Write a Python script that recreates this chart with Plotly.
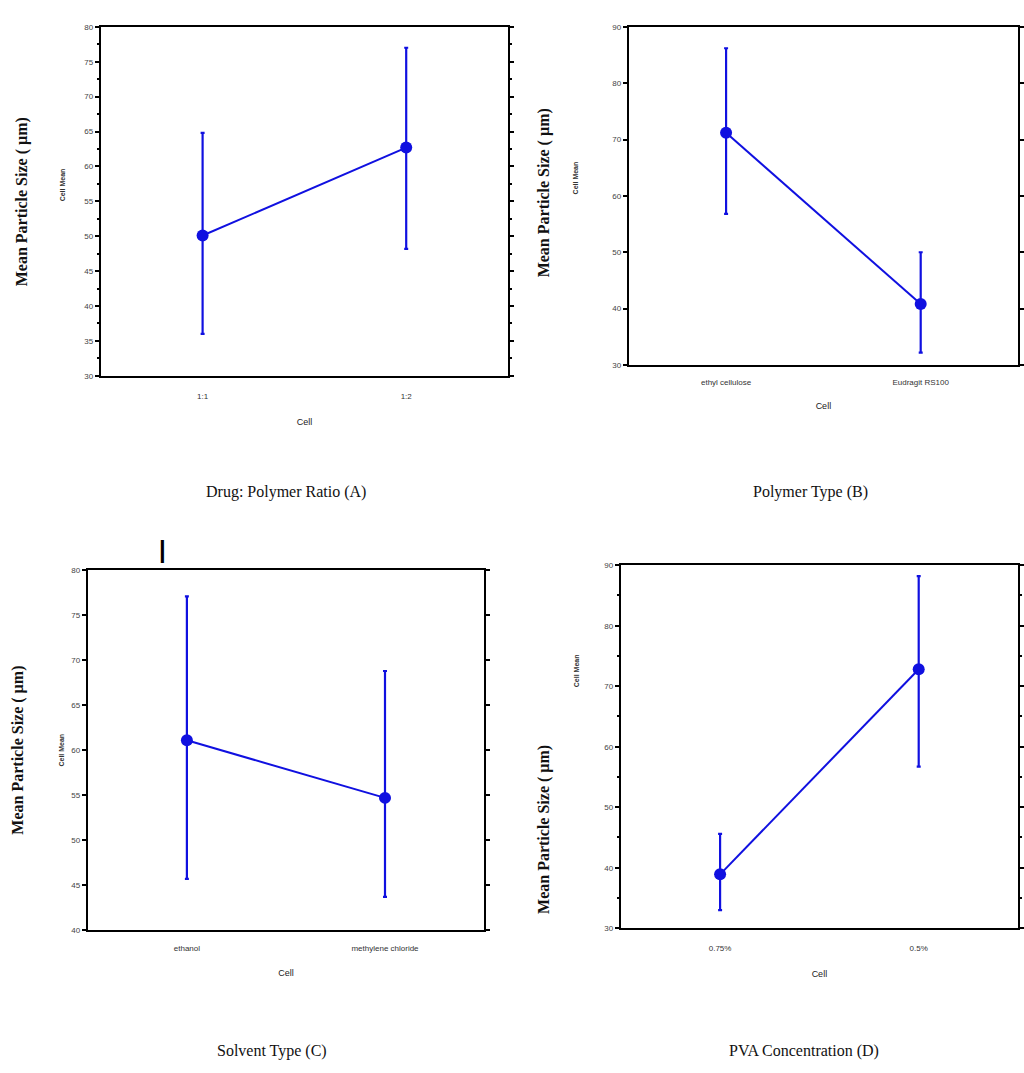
import plotly.graph_objects as go

# ---------------- data ----------------
a_cats = ["1:1", "1:2"]
a_mean = [50.1, 62.7]
a_upper = [64.8, 77.0]
a_lower = [36.0, 48.2]

b_cats = ["ethyl cellulose", "Eudragit RS100"]
b_mean = [71.2, 40.8]
b_upper = [86.2, 50.0]
b_lower = [56.8, 32.2]

c_cats = ["ethanol", "methylene chloride"]
c_mean = [61.1, 54.7]
c_upper = [77.1, 68.8]
c_lower = [45.7, 43.7]

d_cats = ["0.75%", "0.5%"]
d_mean = [38.9, 72.8]
d_upper = [45.6, 88.2]
d_lower = [33.0, 56.7]

captions = ["Drug: Polymer Ratio (A)", "Polymer Type (B)", "Solvent Type (C)", "PVA Concentration (D)"]
y_title = "Mean Particle Size ( µm)"

W, H = 1024, 1073
BLUE = "#1010e0"
SERIF = "Liberation Serif, DejaVu Serif, serif"
SANS = "Liberation Sans, Arial, sans-serif"


def px_x(x):
    return x / W


def px_y(y):
    return 1 - y / H


panels = [
    # cats, mean, up, low, box(l,t,r,b), yrange, dtick, minor, labelstandoff, titlestandoff
    (a_cats, a_mean, a_upper, a_lower, (101, 23, 509, 375), (30, 80), 5, True, 12, 18),
    (b_cats, b_mean, b_upper, b_lower, (630, 23, 1020, 364), (30, 90), 10, False, 8, 17),
    (c_cats, c_mean, c_upper, c_lower, (88, 571, 485, 934), (40, 80), 5, False, 9, 18),
    (d_cats, d_mean, d_upper, d_lower, (622, 566, 1020, 932), (30, 90), 10, True, 11, 19),
]

fig = go.Figure()
layout = {}
for i, (cats, mean, up, low, box, yr, dt, minor, lso, tso) in enumerate(panels):
    n = "" if i == 0 else str(i + 1)
    fig.add_trace(go.Scatter(
        x=cats, y=mean,
        mode="lines+markers",
        line=dict(color=BLUE, width=2),
        marker=dict(color=BLUE, size=12),
        error_y=dict(type="data", symmetric=False,
                     array=[u - m for u, m in zip(up, mean)],
                     arrayminus=[m - l for m, l in zip(mean, low)],
                     color=BLUE, thickness=2.2, width=2),
        xaxis="x" + n, yaxis="y" + n, showlegend=False,
    ))
    l, t, r, b = box
    layout["xaxis" + n] = dict(
        domain=[px_x(l), px_x(r)], anchor="y" + n,
        type="category", range=[-0.5, 1.5],
        showline=True, linecolor="black", linewidth=2, mirror=True,
        showgrid=False, zeroline=False, ticks="",
        ticklabelstandoff=lso,
        tickfont=dict(family=SANS, size=8, color="#333"),
        title=dict(text="Cell", font=dict(family=SANS, size=9, color="#222"), standoff=tso),
    )
    ya = dict(
        domain=[px_y(b), px_y(t)], anchor="x" + n,
        range=list(yr), dtick=dt, tick0=yr[0],
        showline=True, linecolor="black", linewidth=2, mirror="ticks",
        showgrid=False, zeroline=False, ticks="outside", ticklen=4,
        tickwidth=1.5, tickcolor="black",
        tickfont=dict(family=SANS, size=8, color="#444"),
    )
    if minor:
        ya["minor"] = dict(dtick=dt / 2, ticks="outside", ticklen=2, tickcolor="black")
    layout["yaxis" + n] = ya

fig.update_layout(**layout)

ann = []
# y-axis titles
ytitle_pos = [(22, 199), (545, 190), (18, 752), (545, 832)]
cellmean_pos = [(63, 182), (577, 175), (62, 752), (577, 672)]
for (x, y) in ytitle_pos:
    ann.append(dict(x=px_x(x), y=px_y(y), xref="paper", yref="paper", text="<b>" + y_title + "</b>",
                    textangle=-90, showarrow=False,
                    font=dict(family=SERIF, size=16, color="#111"), xanchor="center", yanchor="middle"))
for (x, y) in cellmean_pos:
    ann.append(dict(x=px_x(x), y=px_y(y), xref="paper", yref="paper", text="<b>Cell Mean</b>",
                    textangle=-90, showarrow=False,
                    font=dict(family=SANS, size=7, color="#333"), xanchor="center", yanchor="middle"))
cap_pos = [(287, 492), (812, 492), (273, 1056), (806, 1056)]
for txt, (x, y) in zip(captions, cap_pos):
    ann.append(dict(x=px_x(x), y=px_y(y), xref="paper", yref="paper", text=txt,
                    showarrow=False, font=dict(family=SERIF, size=16, color="#111"),
                    xanchor="center", yanchor="middle"))
ann.append(dict(x=px_x(163), y=px_y(550), xref="paper", yref="paper", text="<b>|</b>",
                showarrow=False, font=dict(family=SANS, size=24, color="black"),
                xanchor="center", yanchor="middle"))

fig.update_layout(
    width=W, height=H, margin=dict(l=0, r=0, t=0, b=0),
    paper_bgcolor="white", plot_bgcolor="white",
    annotations=ann,
)

fig.write_html("out.html")
